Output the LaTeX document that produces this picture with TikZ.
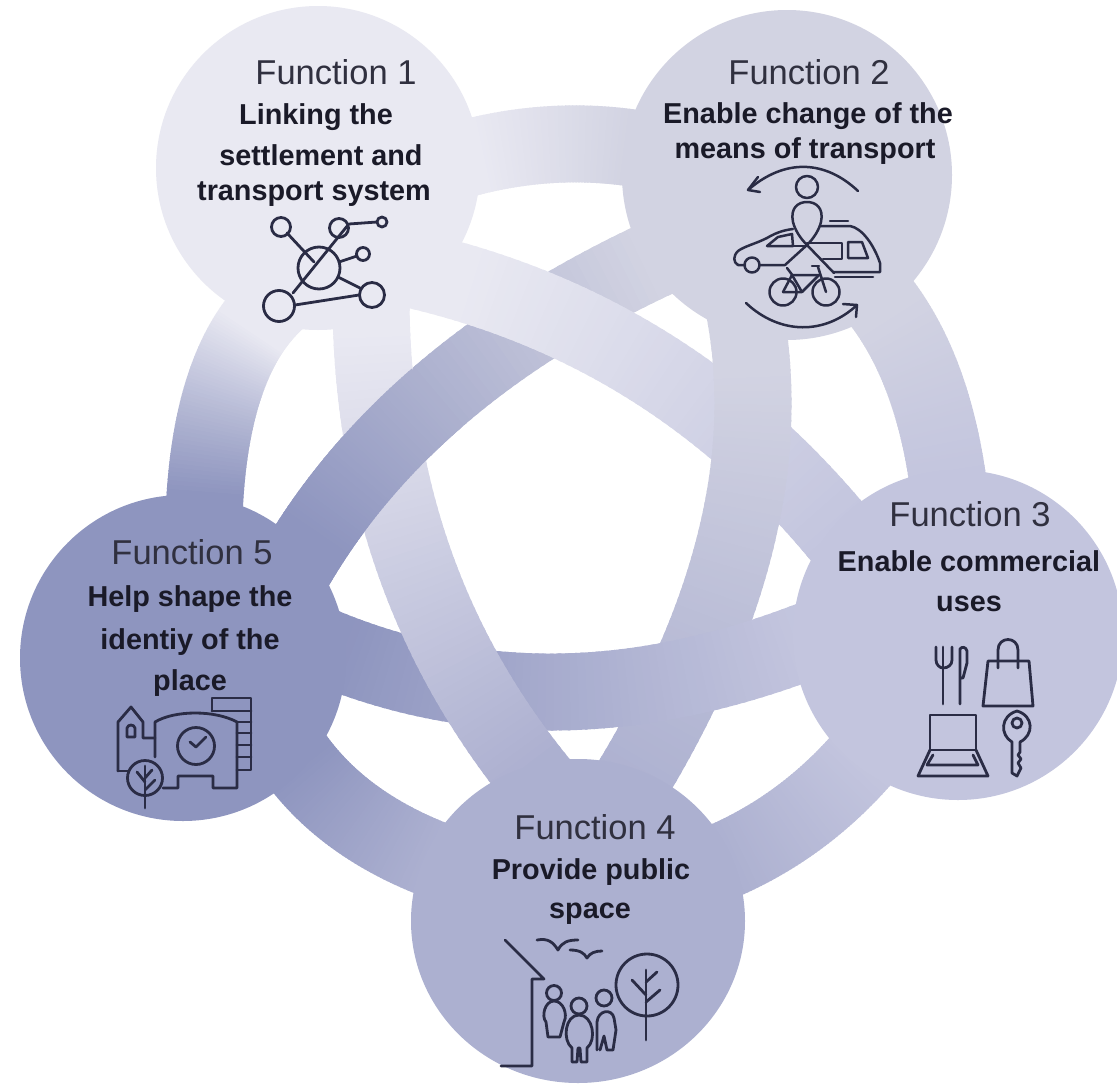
\documentclass[tikz,border=0pt]{standalone}
\usepackage{fontspec}
\usetikzlibrary{shapes.geometric}
\setmainfont{Liberation Sans}
\definecolor{cA}{HTML}{E9E9F2}
\definecolor{cB}{HTML}{D2D3E2}
\definecolor{cC}{HTML}{C3C5DE}
\definecolor{cD}{HTML}{ACB0D0}
\definecolor{cE}{HTML}{8E95BF}
\definecolor{ink}{HTML}{2A2C45}
\definecolor{txt}{HTML}{1A1A28}
\definecolor{txtl}{HTML}{30303F}
\newcommand\bandpts[6]{\def\Ax{#1}\def\Ay{#2}\def\Cx{#3}\def\Cy{#4}\def\Bx{#5}\def\By{#6}}
% colA colB from to
\newcommand\bandrun[4]{%
  \foreach \i in {0,...,79}{%
    \pgfmathsetmacro\ta{#3+(#4-#3)*\i/80}%
    \pgfmathsetmacro\tb{#3+(#4-#3)*(\i+1.4)/80}%
    \pgfmathsetmacro\xa{(1-\ta)^2*\Ax+2*\ta*(1-\ta)*\Cx+\ta*\ta*\Bx}%
    \pgfmathsetmacro\ya{(1-\ta)^2*\Ay+2*\ta*(1-\ta)*\Cy+\ta*\ta*\By}%
    \pgfmathsetmacro\xb{(1-\tb)^2*\Ax+2*\tb*(1-\tb)*\Cx+\tb*\tb*\Bx}%
    \pgfmathsetmacro\yb{(1-\tb)^2*\Ay+2*\tb*(1-\tb)*\Cy+\tb*\tb*\By}%
    \pgfmathsetmacro\pc{100*(1-min(1,max(0,\ta)))}%
    \draw[bandline,draw={#1!\pc!#2}] (\xa,\ya) -- (\xb,\yb);
  }%
}
\tikzset{
  bandline/.style={line width=77pt,line cap=butt},
  hub/.style={circle,inner sep=0pt,outer sep=0pt,minimum size=#1},
  fn/.style={anchor=base,inner sep=0pt,text=txtl,font=\fontsize{34.5}{38}\selectfont},
  tt/.style={anchor=base,inner sep=0pt,text=txt,font=\fontsize{28.8}{32}\selectfont\bfseries},
  ic/.style={draw=ink,line width=2.8pt,line join=round,line cap=round,fill=none},
}
\begin{document}
\begin{tikzpicture}[x=1pt,y=-1pt]
\useasboundingbox (0,0) rectangle (1117,1090);
\clip (0,0) rectangle (1117,1090);
\fill[white] (0,0) rectangle (1117,1090);
% outer ring
\bandpts{480}{155}{553}{138}{625}{147}\bandrun{cA}{cB}{-0.4}{1.4}
\bandpts{889}{313}{932}{376}{947}{475}\bandrun{cB}{cC}{-0.3}{1.3}
\bandpts{864}{757}{805}{825}{726}{860}\bandrun{cC}{cD}{-0.3}{1.3}
\bandpts{430}{858}{348}{825}{302}{767}\bandrun{cD}{cE}{-0.3}{1.3}
\bandpts{205}{496}{212}{390}{250}{332}\bandrun{cE}{cA}{-0.3}{1.3}
% woven star
\bandpts{315}{535}{425}{370}{643}{265}\bandrun{cE}{cB}{-0.3}{1.3}
\bandpts{464}{283}{685}{349}{838}{533}\bandrun{cA}{cC}{-0.3}{1.2}
\bandpts{752}{370}{765}{570}{620}{800}\bandrun{cB}{cD}{-0.2}{1.15}
\bandpts{810}{640}{562}{736}{345}{655}\bandrun{cC}{cE}{-0.2}{1.2}
\bandpts{533}{775}{384}{588}{372}{340}\bandrun{cD}{cA}{-0.15}{1.25}
\bandpts{315}{535}{425}{370}{643}{265}\bandrun{cE}{cB}{-0.3}{0.45}
% hubs
\node[hub=324pt,fill=cA] (f1) at (318,168) {};
\node[hub=330pt,fill=cB] (f2) at (787,175) {};
\node[hub=330pt,fill=cC] (f3) at (958,635) {};
\node[ellipse,inner sep=0pt,outer sep=0pt,minimum width=334pt,minimum height=324pt,fill=cD] (f4) at (578,921) {};
\node[hub=326pt,fill=cE] (f5) at (183,658) {};
% texts
\node[fn] (t1a) at (336,84) {Function 1};
\node[tt] (t1b) at (316,124) {Linking the};
\node[tt] (t1c) at (321,165) {settlement and};
\node[tt] (t1d) at (314,200) {transport system};
\node[fn] (t2a) at (809,84) {Function 2};
\node[tt] (t2b) at (808,123) {Enable change of the};
\node[tt] (t2c) at (805,158) {means of transport};
\node[fn] (t3a) at (970,526) {Function 3};
\node[tt] (t3b) at (969,571) {Enable commercial};
\node[tt] (t3c) at (969,611) {uses};
\node[fn] (t4a) at (595,839) {Function 4};
\node[tt] (t4b) at (591,879) {Provide public};
\node[tt] (t4c) at (590,918) {space};
\node[fn] (t5a) at (192,564) {Function 5};
\node[tt] (t5b) at (190,606) {Help shape the};
\node[tt] (t5c) at (190,649) {identiy of the};
\node[tt] (t5d) at (190,690) {place};
% icon 1: network
\begin{scope}[ic]
\draw (281,227) circle (9.5);
\draw (339,228) circle (9.5);
\draw (382,222) circle (5);
\draw (319,268) circle (21);
\draw (363,254) circle (6.5);
\draw (372,295) circle (12.5);
\draw (279,306) circle (15.5);
\draw (287,233) -- (314,262);
\draw (293,293) -- (348,225);
\draw (349,224) -- (377,222);
\draw (339,262) -- (357,256);
\draw (338,277) -- (360,288);
\draw (295,305) -- (359,295);
\end{scope}
% icon 2: modes of transport
\begin{scope}[ic,line width=2.5pt]
\draw (858,191) .. controls (825,160) and (785,158) .. (748,190);
\draw (758,177) -- (748,190) -- (760,192);
\draw (746,303) .. controls (780,335) and (825,335) .. (857,305);
\draw (843,304) -- (857,305) -- (856,317);
\draw (807,187) circle (11);
\draw (807,245) .. controls (800,238) and (795,230) .. (793,222) .. controls (790,208) and (798,202) .. (807,202) .. controls (816,202) and (824,208) .. (821,222) .. controls (819,230) and (814,238) .. (807,245);
\draw (807,245) -- (785,265) -- (760,265);
\draw (807,245) -- (834,273);
\draw (745,265) -- (738,265) .. controls (733,262) and (733,256) .. (738,251) .. controls (745,246) and (755,244) .. (767,238) .. controls (777,232) and (785,230) .. (793,229);
\draw (752,265) circle (7.5);
\draw (767,246) -- (778,237) -- (792,234) -- (793,246) -- cycle;
\draw (793,246) -- (807,246);
\draw (820,226) -- (850,226) .. controls (862,228) and (874,245) .. (880,263) -- (880,272) -- (833,272);
\draw (830,221) -- (848,221);
\draw (848,242) -- (862,242) -- (868,258) -- (848,258) -- cycle;
\draw (807,243) -- (842,243) -- (842,259) -- (823,259);
\draw (835,277) -- (873,277);
\draw (783,292) circle (13.5);
\draw (826,292) circle (13.5);
\draw (783,292) -- (792,275) -- (819,275);
\draw (792,275) -- (802,292) -- (783,292);
\draw (802,292) -- (819,275);
\draw (826,292) -- (818,267);
\draw (812,266) -- (819,266);
\draw (787,268) -- (793,276);
\end{scope}
% icon 3: commercial uses
\begin{scope}[ic]
\draw (936,647) -- (936,660) .. controls (936,665) and (940,668) .. (943,668) .. controls (948,668) and (952,665) .. (952,660) -- (952,647);
\draw (943,647) -- (943,704);
\draw (960,704) -- (960,649) .. controls (962,646) and (966,647) .. (967,651) -- (967,663) -- (963,678) -- (960,678);
\draw (983,706) -- (988,661) -- (1029,661) -- (1033,706) -- cycle;
\draw (998,668) -- (998,650) .. controls (998,636) and (1018,636) .. (1018,650) -- (1018,668);
\draw (930,750) -- (930,715) -- (976,715) -- (976,750) -- cycle;
\draw (930,750) -- (918,776) -- (988,776) -- (976,750);
\draw (933,755) -- (927,765) -- (978,765) -- (973,755);
\draw (1012,742) .. controls (1000,735) and (1000,716) .. (1017,711) .. controls (1034,716) and (1034,735) .. (1020,742) -- (1020,752) -- (1018,755) -- (1021,759) -- (1018,763) -- (1021,768) -- (1017,776) -- (1012,773) -- cycle;
\draw (1017,723) circle (5);
\end{scope}
% icon 4: public space
\begin{scope}[ic]
\draw (505,940) -- (544,979) -- (532,979) -- (532,1066) -- (501,1066);
\draw (537,940) .. controls (548,938) and (553,942) .. (558,950) .. controls (562,942) and (568,940) .. (578,940);
\draw (570,950) .. controls (580,950) and (584,953) .. (587,958) .. controls (590,953) and (595,951) .. (602,951);
\draw (647,985) circle (31);
\draw (646,970) -- (646,1040);
\draw (632,980) -- (646,995);
\draw (657,972) -- (646,982);
\draw (660,990) -- (646,1002);
\draw (554,993) circle (7.5);
\draw (548,1037) -- (546,1022) .. controls (541,1016) and (545,1001) .. (554,1001) .. controls (563,1001) and (568,1014) .. (564,1022) -- (560,1037) -- cycle;
\draw (579,1006) circle (8);
\draw (572,1048) .. controls (562,1040) and (565,1015) .. (579,1015) .. controls (593,1015) and (597,1040) .. (587,1048) -- (587,1062) -- (581,1062) -- (580,1048) -- (578,1048) -- (577,1062) -- (572,1062) -- cycle;
\draw (604,998) circle (8);
\draw (597,1050) -- (597,1022) .. controls (598,1010) and (612,1008) .. (614,1018) -- (616,1030) -- (613,1050) -- (607,1050) -- (604,1036) -- (600,1050);
\end{scope}
% icon 5: identity of the place
\begin{scope}[ic]
\draw (118,771) -- (118,722) -- (131,707) -- (143,722) -- (143,738) -- (155,738);
\draw (127,737) -- (127,728) .. controls (128,724) and (134,724) .. (135,728) -- (135,737) -- cycle;
\draw (155,757) -- (155,722) .. controls (175,710) and (215,710) .. (237,722) -- (237,788) -- (213,788) -- (213,776) -- (178,776) -- (178,788) -- (163,788);
\draw (196,746) circle (18.5);
\draw (190,742) -- (196,747) -- (206,737);
\draw (212,711) -- (212,698) -- (251,698) -- (251,770) -- (237,770);
\draw (212,711) -- (251,711);
\draw (237,722) -- (251,722);
\draw (237,733) -- (251,733);
\draw (237,745) -- (251,745);
\draw (237,757) -- (251,757);
\draw (118,771) -- (128,771);
\draw (145,778) circle (17.5);
\draw (145,766) -- (145,808);
\draw (137,772) -- (145,782);
\draw (152,770) -- (145,778);
\draw (155,780) -- (145,790);
\end{scope}
\end{tikzpicture}
\end{document}
